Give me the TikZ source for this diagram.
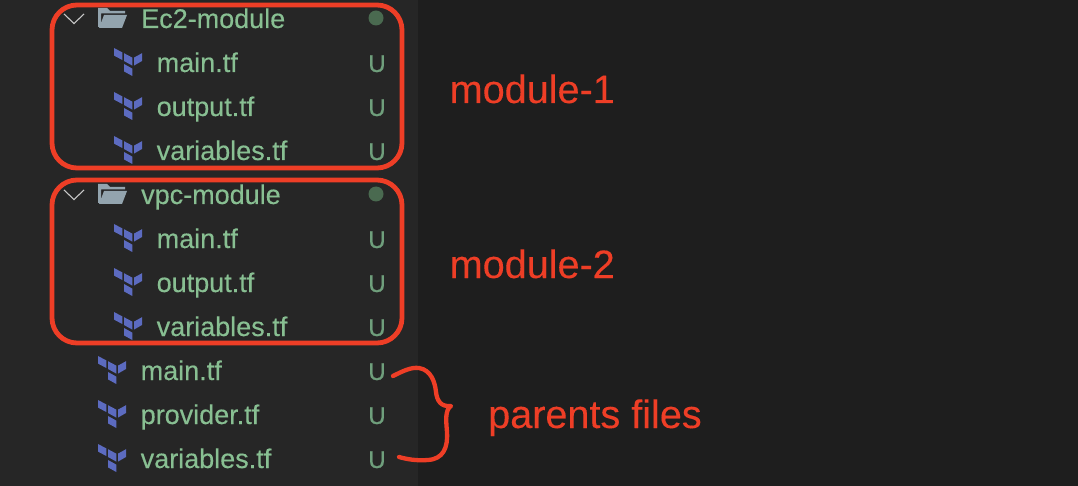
\documentclass[tikz,border=0pt]{standalone}
\usepackage{fontspec}
\setmainfont{Liberation Sans}
\newfontfamily\medfont[FakeBold=0.3]{Liberation Sans}
\newfontfamily\ufont[FakeBold=0.6]{Liberation Sans}
\newfontfamily\redfont[FakeBold=0.15]{Liberation Sans}
\definecolor{panel}{HTML}{262626}
\definecolor{side}{HTML}{1E1E1E}
\definecolor{filegreen}{HTML}{88BF92}
\definecolor{ugreen}{HTML}{6F9F7C}
\definecolor{dotgreen}{HTML}{4A6A50}
\definecolor{redmark}{HTML}{EE3E26}
\definecolor{tfblue}{HTML}{5C6BC0}
\definecolor{foldergrey}{HTML}{93A4AE}
\definecolor{chev}{HTML}{C8C8C8}
\tikzset{
  file/.style={anchor=base west,inner sep=0pt,text=filegreen,font=\medfont\fontsize{27}{27}\selectfont},
  ustat/.style={anchor=base,inner sep=0pt,text=ugreen,font=\ufont\fontsize{24}{24}\selectfont},
  redlabel/.style={anchor=base west,inner sep=0pt,text=redmark,font=\redfont\fontsize{39.6}{39.6}\selectfont},
  modbox/.style={draw=redmark,line width=4.8pt,rounded corners=25pt},
  tficon/.pic={
    \begin{scope}[x=1pt,y=-1pt]
    \fill[tfblue] (0,0)--(8.3,4.4)--(8.3,12)--(0,7.6)--cycle;
    \fill[tfblue] (10,5.2)--(18.3,9.6)--(18.3,17.6)--(10,13)--cycle;
    \fill[tfblue] (20,9.6)--(28,5.2)--(28,13)--(20,17.6)--cycle;
    \fill[tfblue] (10,16)--(18.3,20.6)--(18.3,28)--(10,23.4)--cycle;
    \end{scope}
  },
  foldericon/.pic={
    \begin{scope}[x=1pt,y=-1pt]
    \fill[foldergrey] (0,0)--(0,19)--(3,19)--(3,5.5)--(27,5.5)--(27,3)--(12,3)--(9,0)--cycle;
    \fill[foldergrey] (6,7)--(29,7)--(24,20)--(1,20)--cycle;
    \end{scope}
  },
  chevronicon/.pic={
    \begin{scope}[x=1pt,y=-1pt]
    \draw[chev,line width=1.1pt] (0,0)--(10,9.5)--(20,0);
    \end{scope}
  }
}
\begin{document}
\begin{tikzpicture}[x=1pt,y=-1pt]
\useasboundingbox (0,0) rectangle (1078,486);
\fill[panel] (0,0) rectangle (418,486);
\fill[side] (418,0) rectangle (1078,486);

% module 1
\pic at (64,14) {chevronicon};
\pic at (98,8) {foldericon};
\node[file] (ec2) at (141,28) {Ec2-module};
\fill[dotgreen] (376,18) circle (7.5);
\pic at (114,48) {tficon};
\pic at (114,92) {tficon};
\pic at (114,136) {tficon};
\node[file] (m1main) at (156.5,72) {main.tf};
\node[file] (m1out) at (156.5,116) {output.tf};
\node[file] (m1var) at (156.5,160) {variables.tf};
\node[ustat] (u1) at (377,72) {U};
\node[ustat] (u2) at (377,116) {U};
\node[ustat] (u3) at (377,160) {U};

% module 2
\pic at (64,190) {chevronicon};
\pic at (98,184) {foldericon};
\node[file] (vpc) at (141,204) {vpc-module};
\fill[dotgreen] (376,194) circle (7.5);
\pic at (114,224) {tficon};
\pic at (114,268) {tficon};
\pic at (114,312) {tficon};
\node[file] (m2main) at (156.5,248) {main.tf};
\node[file] (m2out) at (156.5,292) {output.tf};
\node[file] (m2var) at (156.5,336) {variables.tf};
\node[ustat] (u4) at (377,248) {U};
\node[ustat] (u5) at (377,292) {U};
\node[ustat] (u6) at (377,336) {U};

% root files
\pic at (98,356) {tficon};
\pic at (98,400) {tficon};
\pic at (98,444) {tficon};
\node[file] (rmain) at (140.5,380) {main.tf};
\node[file] (rprov) at (140.5,424) {provider.tf};
\node[file] (rvar) at (140.5,468) {variables.tf};
\node[ustat] (u7) at (377,380) {U};
\node[ustat] (u8) at (377,424) {U};
\node[ustat] (u9) at (377,468) {U};

% annotation
\draw[modbox] (52,5) rectangle (402,168);
\draw[modbox] (52,180) rectangle (402,343);
\node[redlabel] (l1) at (449.5,103) {module-1};
\node[redlabel] (l2) at (449.5,278) {module-2};
\node[redlabel] (l3) at (488,428) {parents files};
\coordinate (bs) at (393,376);
\coordinate (be) at (399,457);
\draw[redmark,line width=4.3pt,line cap=round,line join=round]
  (bs) .. controls (403,371) and (411,367) .. (419,368)
  .. controls (431,370) and (435,382) .. (436,392)
  .. controls (437,401) and (441,407) .. (451,406)
  .. controls (445,410) and (446,420) .. (447,432)
  .. controls (448,448) and (443,459) .. (428,460)
  .. controls (416,461) and (406,459) .. (be);
\end{tikzpicture}
\end{document}
